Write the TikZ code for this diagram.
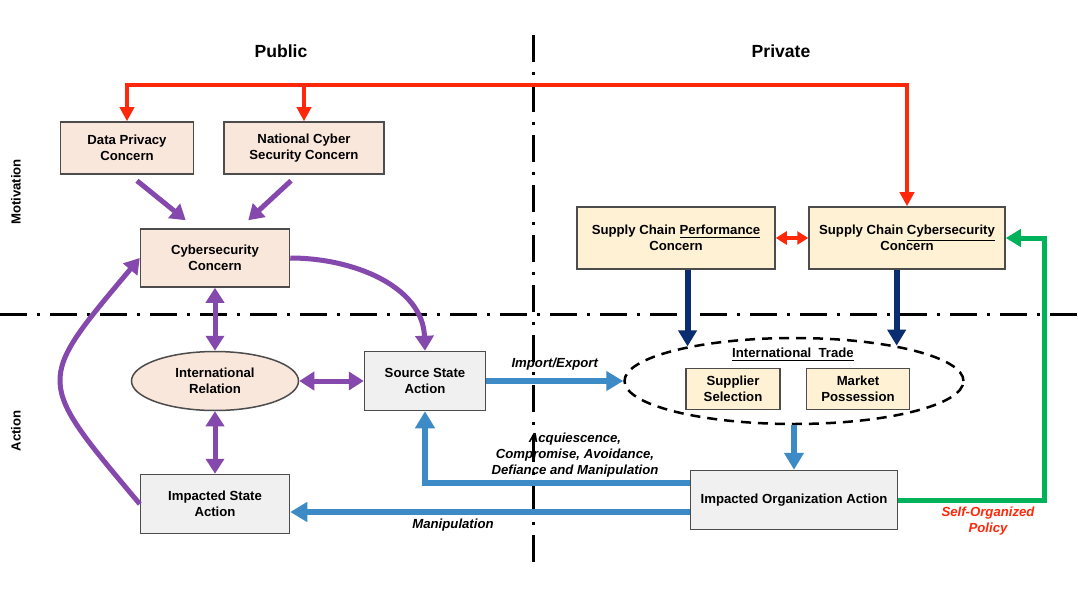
\documentclass[tikz,border=0pt]{standalone}
\usepackage{fontspec}
\setmainfont{Liberation Sans}
\usetikzlibrary{calc,arrows.meta,shapes.geometric}

\definecolor{pinkfill}{RGB}{250,231,220}
\definecolor{sandfill}{RGB}{254,241,212}
\definecolor{greyfill}{RGB}{240,240,240}
\definecolor{purp}{RGB}{133,72,172}
\definecolor{redl}{RGB}{255,40,10}
\definecolor{bluel}{RGB}{60,138,198}
\definecolor{navyl}{RGB}{10,44,112}
\definecolor{greenl}{RGB}{0,178,90}

\begin{document}
\begin{tikzpicture}[x=0.2mm, y=0.2mm,
  box/.style={draw=black!70, line width=0.3mm, align=center, inner sep=0pt,
    font=\fontsize{7.5}{9}\selectfont\bfseries},
  pinkbox/.style={box, fill=pinkfill},
  sandbox/.style={box, fill=sandfill},
  greybox/.style={box, fill=greyfill},
  lbl/.style={align=center, font=\fontsize{7.5}{9}\selectfont\bfseries\itshape},
  divider/.style={line width=0.6mm, dash pattern=on 5.4mm off 2mm on 0.6mm off 2mm},
  pur/.style={draw=purp, line width=1mm, >={Triangle[width=3.6mm,length=3mm]}},
  red/.style={draw=redl, line width=0.8mm, >={Triangle[width=2.8mm,length=2.8mm]}},
  blu/.style={draw=bluel, line width=1.2mm, >={Triangle[width=3.8mm,length=3.4mm]}},
  nav/.style={draw=navyl, line width=1.2mm, >={Triangle[width=3.6mm,length=3.2mm]}},
  grn/.style={draw=greenl, line width=1mm, >={Triangle[width=3.4mm,length=3mm]}}]
\useasboundingbox[fill=white] (0,0) rectangle (1078,592);

% regions
\draw[divider] (533,557) -- (533,22);
\draw[divider] (0,278) -- (1078,278);
\node[font=\fontsize{10}{12}\selectfont\bfseries] (pub) at (281,541) {Public};
\node[font=\fontsize{10}{12}\selectfont\bfseries] (pri) at (781,541) {Private};
\node[rotate=90, font=\fontsize{7.5}{9}\selectfont\bfseries] (mot) at (16,400) {Motivation};
\node[rotate=90, font=\fontsize{7.5}{9}\selectfont\bfseries] (act) at (16,161) {Action};

% public side
\node[pinkbox, minimum width=26.6mm, minimum height=10.4mm] (dpc) at (127,444) {Data Privacy\\Concern};
\node[pinkbox, minimum width=32mm, minimum height=10.4mm] (ncs) at (304,444) {National Cyber\\Security Concern};
\node[pinkbox, minimum width=29.8mm, minimum height=11.6mm] (csc) at (215,334) {Cybersecurity\\Concern};
\node[pinkbox, ellipse, minimum width=33.4mm, minimum height=11.8mm] (irl) at (215,211) {International\\Relation};
\node[greybox, minimum width=24.2mm, minimum height=11.8mm] (ssa) at (425,211) {Source State\\Action};
\node[greybox, minimum width=29.8mm, minimum height=11.8mm] (isa) at (215,88) {Impacted State\\Action};

% private side
\node[sandbox, minimum width=39.6mm, minimum height=12.4mm] (scp) at (676,354) {Supply Chain \underline{Performance}\\Concern};
\node[sandbox, minimum width=39.2mm, minimum height=12.4mm] (scc) at (907,354) {Supply Chain \underline{Cybersecurity}\\Concern};
\node[ellipse, draw, line width=0.5mm, dash pattern=on 2mm off 1.4mm, minimum width=67.8mm, minimum height=17.2mm] (ite) at (794,211) {};
\node[font=\fontsize{7.5}{9}\selectfont\bfseries] (itl) at (793,237) {\underline{International\ \ Trade}};
\node[sandbox, minimum width=18.8mm, minimum height=8.2mm] (sup) at (733,203) {Supplier\\Selection};
\node[sandbox, minimum width=20.6mm, minimum height=8.2mm] (mkt) at (858,203) {Market\\Possession};
\node[greybox, minimum width=41.4mm, minimum height=11.8mm] (ioa) at (794,92) {Impacted Organization Action};

% red feedback
\coordinate (rtop) at (907,507);
\draw[red,<->] (dpc.north) |- (rtop) -- (scc.north);
\draw[red,->] (rtop -| ncs.north) -- (ncs.north);
\draw[red,<->,>={Triangle[width=2.6mm,length=2.2mm]}] (scp.east) -- (scc.west);

% purple links
\draw[pur,->] ($(dpc.south)+(10,-6)$) -- ($(csc.north west)+(46,8)$);
\draw[pur,->] ($(ncs.south)+(-13,-6)$) -- ($(csc.north east)+(-42,8)$);
\draw[pur,<->] (csc.south) -- (irl.north);
\draw[pur,<->] (irl.south) -- (isa.north);
\draw[pur,<->] (irl.east) -- (ssa.west);
\draw[pur,->] (csc.east) to[out=0, in=92] (ssa.north);
\draw[pur,->] (isa.west) to[out=130, in=230, looseness=1.7] (csc.west);

% trade flows
\draw[nav,->] (scp.south -| ite.162) -- (ite.162);
\draw[nav,->] (scc.south -| ite.19) -- (ite.19);
\draw[blu,->] (ssa.east) -- (ite.west) node[lbl, midway, above, yshift=1pt] (imx) {Import/Export};
\draw[blu,->] (ite.south) -- (ioa.north);
\draw[blu,->] ($(ioa.west)+(0,17)$) -| (ssa.south);
\draw[blu,->] ($(ioa.west)+(0,-12)$) -- ($(isa.east)+(0,-8)$);
\node[lbl] (acq) at (575,137) {Acquiescence,\\Compromise, Avoidance,\\Defiance and Manipulation};
\node[lbl] (man) at (453,67) {Manipulation};

% self-organized policy
\draw[grn,->] (ioa.east) -- ++(146,0) |- (scc.east);
\node[lbl, text=redl] (sop) at (988,71) {Self-Organized\\Policy};
\end{tikzpicture}
\end{document}
